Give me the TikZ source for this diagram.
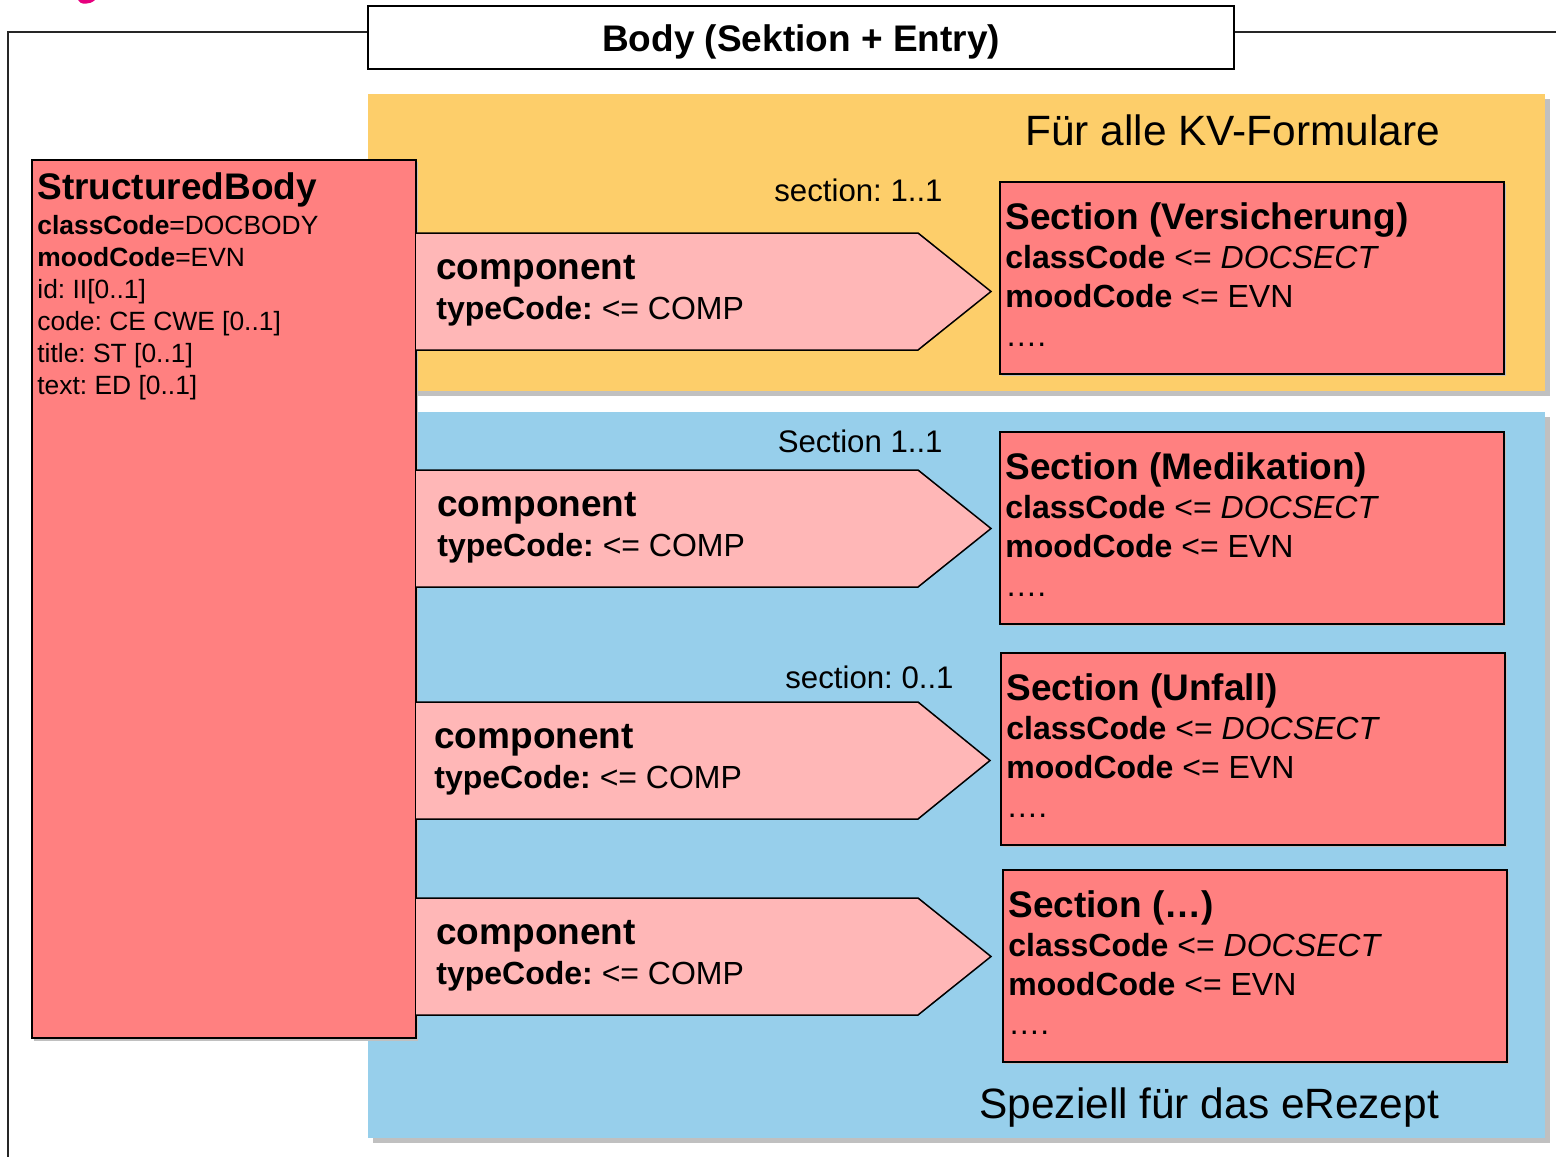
\documentclass[tikz,border=0pt]{standalone}
\usepackage{fontspec}
\setmainfont{Liberation Sans}
\frenchspacing
\definecolor{ylw}{RGB}{253,206,106}
\definecolor{blu}{RGB}{151,207,235}
\definecolor{redbox}{RGB}{255,128,128}
\definecolor{pnk}{RGB}{255,183,183}
\definecolor{shd}{RGB}{192,192,192}
\definecolor{mag}{RGB}{230,0,126}
\begin{document}
\frenchspacing
\begin{tikzpicture}[x=0.5pt,y=-0.5pt,
  area/.style={anchor=north west, inner sep=0pt, outer sep=0pt},
  redframe/.style={area, draw=black, line width=1pt, fill=redbox},
  secbox/.style={redframe, minimum width=252pt, minimum height=96pt},
  txt/.style={anchor=base west, inner sep=0pt},
  bigb/.style={font=\fontsize{18.5}{20}\selectfont\bfseries},
  attr/.style={font=\fontsize{13.2}{15}\selectfont},
  mid/.style={font=\fontsize{16}{18}\selectfont},
  lbl/.style={anchor=base east, inner sep=0pt, font=\fontsize{15.6}{18}\selectfont},
  huge/.style={font=\fontsize{21.2}{24}\selectfont},
  arrowshape/.style={fill=pnk, draw=black, line width=0.75pt, line join=miter}
]
\useasboundingbox (0,0) rectangle (1556,1156);
% cut-off glyph at top
\fill[mag] (78,0) .. controls (80,5) and (90,5) .. (95,0) -- cycle;
% outer frame
\draw[line width=1pt, draw=black!85] (368,32) -- (8,32) -- (8,1160);
\draw[line width=1pt, draw=black!85] (1234,32) -- (1560,32);
\node[area, draw=black, line width=1pt, fill=white, minimum width=433pt, minimum height=31.5pt] (title) at (368,6) {};
\node[anchor=base, inner sep=0pt, bigb] (titletext) at (801,52) {Body (Sektion + Entry)};
% coloured areas with shadows
\fill[shd] (373,99) rectangle (1550,396);
\node[area, fill=ylw, minimum width=588.5pt, minimum height=148.5pt] (yellow) at (368,94) {};
\fill[shd] (373,417) rectangle (1550,1143);
\node[area, fill=blu, minimum width=588.5pt, minimum height=363pt] (blue) at (368,412) {};
\node[txt, huge] (allkv) at (1025,145) {Für alle KV-Formulare};
\node[txt, huge] (erez) at (979,1118) {Speziell für das eRezept};
% structured body
\fill[shd] (34,162) rectangle (418,1041);
\node[redframe, minimum width=192pt, minimum height=439pt] (sb) at (32,160) {};
\node[txt, bigb] (sbt) at (37,199) {StructuredBody};
\node[txt, attr] (sb1) at (37,234) {\textbf{classCode}=DOCBODY};
\node[txt, attr] (sb2) at (37,266) {\textbf{moodCode}=EVN};
\node[txt, attr] (sb3) at (37,298) {id: II[0..1]};
\node[txt, attr] (sb4) at (37,330) {code: CE CWE [0..1]};
\node[txt, attr] (sb5) at (37,362) {title: ST [0..1]};
\node[txt, attr] (sb6) at (37,394) {text: ED [0..1]};
% component arrows
\foreach \n/\t/\tip/\tx in {1/233/991/436, 2/470/991/437, 3/702/990/434, 4/898/991/436}{
  \fill[pnk] (416,\t) -- (918,\t) -- (\tip,\t+58.5) -- (918,\t+117) -- (416,\t+117) -- cycle;
  \draw[arrowshape, fill=none] (416,\t) -- (918,\t) -- (\tip,\t+58.5) -- (918,\t+117) -- (416,\t+117);
  \node[txt, bigb] (c\n) at (\tx,\t+46) {component};
  \node[txt, mid] (ct\n) at (\tx,\t+86) {\textbf{typeCode:} <= COMP};
}
% multiplicities
\node[lbl] (m1) at (943,201) {section: 1..1};
\node[lbl] (m2) at (943,452) {Section 1..1};
\node[lbl] (m3) at (954,688) {section: 0..1};
% section boxes
\foreach \n/\x/\y/\ttl in {1/1000/182/{(Versicherung)}, 2/1000/432/{(Medikation)}, 3/1001/653/{(Unfall)}, 4/1003/870/{(…)}}{
  \fill[shd] (\x+2,\y+2) rectangle (\x+506,\y+194);
  \node[secbox] (s\n) at (\x,\y) {};
  \node[txt, bigb] (st\n) at (\x+5,\y+47) {Section \ttl};
  \node[txt, mid] (sc\n) at (\x+5,\y+86.5) {\textbf{classCode} <= \textit{DOCSECT}};
  \node[txt, mid] (sm\n) at (\x+5,\y+125.5) {\textbf{moodCode} <= EVN};
  \node[txt, mid] (sd\n) at (\x+5,\y+164) {….};
}
\end{tikzpicture}
\end{document}
